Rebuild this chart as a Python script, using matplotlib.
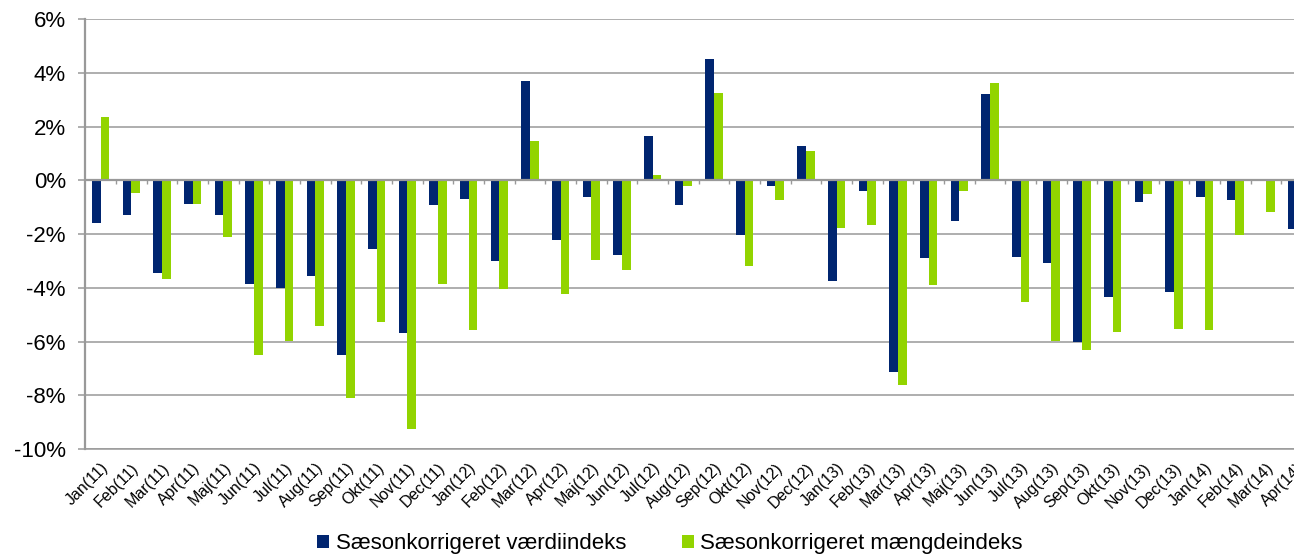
import numpy as np
import matplotlib
matplotlib.use("Agg")
from matplotlib import pyplot as plt

plt.rcParams['font.family'] = ['Liberation Sans', 'DejaVu Sans']

months = ['Jan', 'Feb', 'Mar', 'Apr', 'Maj', 'Jun', 'Jul', 'Aug', 'Sep', 'Okt', 'Nov', 'Dec']
labels = ['%s(%d)' % (m, y) for y in (11, 12, 13) for m in months] + \
	['Jan(14)', 'Feb(14)', 'Mar(14)', 'Apr(14)']

# Saesonkorrigeret vaerdiindeks (%)
vaerdi = [-1.58, -1.28, -3.46, -0.88, -1.29, -3.85, -4.00, -3.54, -6.50, -2.56, -5.68, -0.91,
	-0.68, -3.01, 3.72, -2.20, -0.60, -2.77, 1.67, -0.91, 4.54, -2.02, -0.19, 1.27,
	-3.76, -0.41, -7.12, -2.87, -1.51, 3.20, -2.85, -3.08, -6.03, -4.34, -0.81, -4.17,
	-0.62, -0.71, 0.0, -1.79]
# Saesonkorrigeret maengdeindeks (%)
maengde = [2.37, -0.47, -3.66, -0.88, -2.11, -6.49, -5.97, -5.42, -8.09, -5.27, -9.24, -3.86,
	-5.57, -4.06, 1.45, -4.23, -2.97, -3.35, 0.22, -0.19, 3.24, -3.19, -0.74, 1.08,
	-1.77, -1.67, -7.63, -3.90, -0.40, 3.61, -4.53, -5.97, -6.33, -5.65, -0.52, -5.55,
	-5.57, -2.03, -1.19, -1.00]

yticks = [-10, -8, -6, -4, -2, 0, 2, 4, 6]

blue = '#002570'
green = '#92d400'
grey = '#999999'

fig = plt.figure(figsize=(12.94, 5.58), dpi=100)
# axes runs a little past the right edge, as in the original (Apr(14) is cut)
ax = fig.add_axes([85.3/1294, 1 - 449/558., (1312 - 85.3)/1294, (449 - 19.3)/558.])

x = np.arange(len(labels))
w = 0.28
ax.bar(x - w/2, vaerdi, w, color=blue, label='Sæsonkorrigeret værdiindeks', zorder=2)
ax.bar(x + w/2, maengde, w, color=green, label='Sæsonkorrigeret mængdeindeks', zorder=2)

ax.set_xlim(-0.5, len(labels) - 0.5)
ax.set_ylim(-10, 6)
ax.set_yticks(yticks)
ax.set_yticklabels(['%d%%' % v for v in yticks], fontsize=16)
ax.yaxis.grid(True, color=grey, linewidth=1.1)
ax.set_axisbelow(True)

# zero line with small category ticks
ax.axhline(0, color=grey, linewidth=1.6, zorder=3)
ax.vlines(x[:-1] + 0.5, -0.12, 0, color=grey, linewidth=1.0, zorder=3)

ax.set_xticks(x)
ax.set_xticklabels(labels, rotation=45, ha='right', rotation_mode='anchor', fontsize=11.5)
ax.tick_params(axis='x', length=0, pad=8)
ax.tick_params(axis='y', length=5, color=grey, width=1.1, pad=9)

for s in ['top', 'right']:
	ax.spines[s].set_visible(False)
ax.spines['left'].set_color(grey)
ax.spines['left'].set_linewidth(1.6)
ax.spines['bottom'].set_color(grey)
ax.spines['bottom'].set_linewidth(1.1)

fig.legend(loc='center', bbox_to_anchor=(670/1294., (558 - 544)/558.), ncol=2, frameon=False,
	fontsize=16, handlelength=0.54, handleheight=0.54, handletextpad=0.3, columnspacing=2.5,
	borderpad=0, borderaxespad=0)

plt.savefig('out.png', dpi=100)
